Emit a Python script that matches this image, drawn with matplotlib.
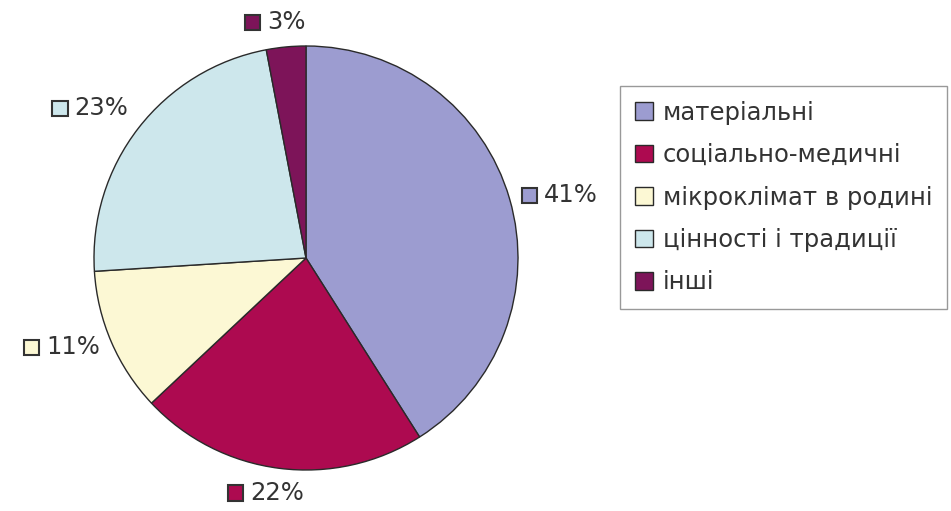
import numpy as np
import matplotlib
matplotlib.use("Agg")
import matplotlib.pyplot as plt
from matplotlib.offsetbox import AnnotationBbox, DrawingArea, HPacker, TextArea
from matplotlib.patches import Rectangle

plt.rcParams['font.family'] = ['DejaVu Sans']

categories = ["матеріальні", "соціально-медичні", "мікроклімат в родині",
              "цінності і традиції", "інші"]
values = [41, 22, 11, 23, 3]
colors = ["#9c9cd0", "#ad0a50", "#fcf8d4", "#cde7ec", "#7d1459"]

W, H = 951, 511
fig = plt.figure(figsize=(W / 100, H / 100), dpi=100)
ax = fig.add_axes([0, 0, 1, 1])

cx, cy, r = 306, 253, 212
wedges, _ = ax.pie(values, colors=colors, startangle=90, counterclock=False,
                   center=(cx, cy), radius=r, frame=True,
                   wedgeprops=dict(edgecolor="#2a2a2a", linewidth=1))
ax.set_xlim(0, W)
ax.set_ylim(0, H)
ax.set_aspect("equal")
ax.axis("off")

txt_color = "#333333"
fs = 17.5

# percentage labels with a small colour square, placed outside each wedge
for w, v, c in zip(wedges, values, colors):
    ang = np.deg2rad((w.theta1 + w.theta2) / 2)
    ca, sa = np.cos(ang), np.sin(ang)
    px, py = cx + 1.06 * r * ca, cy + 1.06 * r * sa
    bx = 0 if ca > 0.3 else (1 if ca < -0.3 else 0.66)
    by = 0 if sa > 0.6 else (1 if sa < -0.6 else 0.5)
    da = DrawingArea(11, 11, 0, 0)
    da.add_artist(Rectangle((0, 0), 11, 11, facecolor=c,
                            edgecolor="#333333", linewidth=1.5))
    ta = TextArea(f"{v}%", textprops=dict(fontsize=fs, color=txt_color))
    box = HPacker(children=[da, ta], align="center", pad=0, sep=5)
    ab = AnnotationBbox(box, (px, py), xycoords="data", frameon=False,
                        box_alignment=(bx, by), pad=0)
    ax.add_artist(ab)

leg = fig.legend(wedges, categories, loc="upper left",
                 bbox_to_anchor=(620 / W, 1 - 86 / H),
                 fontsize=fs, frameon=True, fancybox=False, shadow=False,
                 edgecolor="#999999", framealpha=1,
                 handlelength=0.75, handleheight=0.75, handletextpad=0.4,
                 labelspacing=0.76, borderpad=0.6, borderaxespad=0)
for t in leg.get_texts():
    t.set_color(txt_color)

fig.savefig("out.png", dpi=100)
